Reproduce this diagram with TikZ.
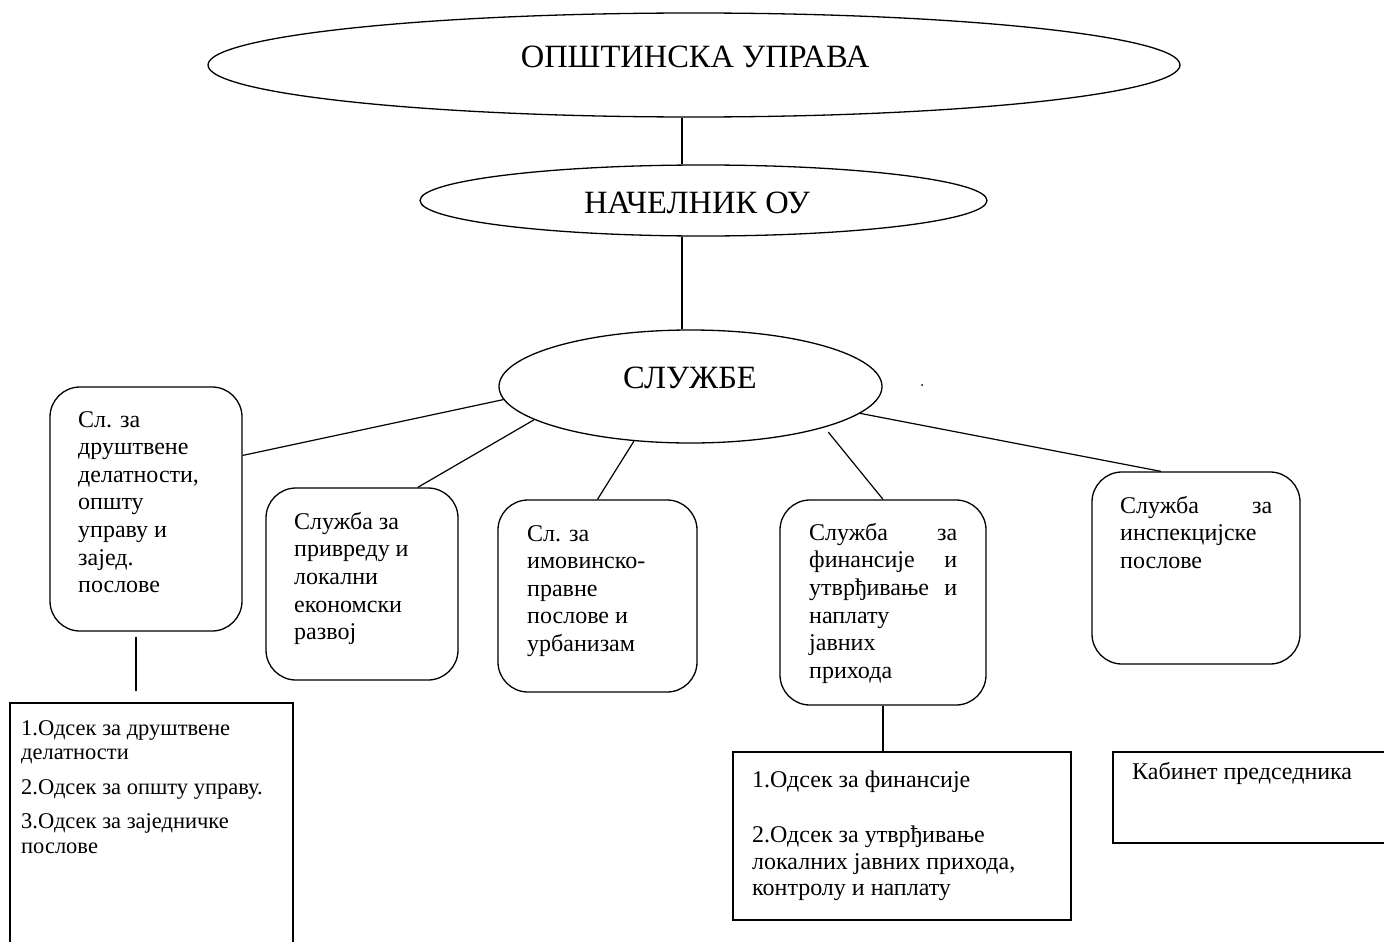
\documentclass[tikz,border=0pt]{standalone}
\usepackage{fontspec}
\setmainfont{Liberation Serif}
\usetikzlibrary{shapes.geometric}

\tikzset{
	oval/.style={draw, ellipse, inner sep=0pt, line width=1.3pt},
	svc/.style={draw, rounded corners=30pt, inner sep=0pt, line width=1.3pt},
	dept/.style={draw, inner sep=0pt, line width=1.2pt},
	bigtext/.style={inner sep=0pt, font=\fontsize{32.5}{38}\selectfont},
	svctext/.style={anchor=north west, inner sep=0pt, align=left, font=\fontsize{24}{27.6}\selectfont},
	depttext/.style={anchor=north west, inner sep=0pt, align=left, font=\fontsize{24}{26.6}\selectfont},
	link/.style={line width=1.2pt}
}

\begin{document}
\begin{tikzpicture}[x=1pt, y=-1pt]
			%%%%% START %%%%%
			\useasboundingbox (0, 0) rectangle (1384, 942);
			\coordinate (spine) at (682, 0);
			
			\node[oval, minimum width=972pt, minimum height=104pt] (ou) at (694, 65) {};
			\node[bigtext] (ou-t) at (695, 57) {ОПШТИНСКА УПРАВА};
			
			\node[oval, minimum width=567pt, minimum height=71pt] (nac) at (703.5, 200.5) {};
			\node[bigtext] (nac-t) at (697, 203) {НАЧЕЛНИК ОУ};
			
			\node[oval, minimum width=383pt, minimum height=113pt] (sl) at (690.5, 386.5) {};
			\node[bigtext] (sl-t) at (690, 378) {СЛУЖБЕ};
			\node[circle, fill, inner sep=0pt, minimum size=2pt] (mark) at (922, 385) {};
			
			\draw[link] (ou.south -| spine) -- (nac.north -| spine);
			\draw[link] (nac.south -| spine) -- (sl.north -| spine);
			
			% sluzbe
			\node[svc, minimum width=192pt, minimum height=244pt] (b1) at (146, 509) {};
			\node[svctext] (b1-t) at (78, 411) {Сл. за\\друштвене\\делатности,\\општу\\управу и\\зајед.\\послове};
			
			\node[svc, minimum width=192pt, minimum height=192pt] (b2) at (362, 584) {};
			\node[svctext] (b2-t) at (294, 512) {Служба за\\привреду и\\локални\\економски\\развој};
			
			\node[svc, minimum width=199pt, minimum height=192pt] (b3) at (597.5, 596) {};
			\node[svctext] (b3-t) at (527, 525) {Сл. за\\имовинско-\\правне\\послове и\\урбанизам};
			
			\node[svc, minimum width=206pt, minimum height=205pt] (b4) at (883, 602.5) {};
			\node[svctext] (b4-t) at (809, 523) {\hbox to 148pt{Служба\hfill за}\\\hbox to 148pt{финансије\hfill и}\\\hbox to 148pt{утврђивање\hfill и}\\наплату\\јавних\\прихода};
			
			\node[svc, minimum width=208pt, minimum height=192pt] (b5) at (1196, 568) {};
			\node[svctext] (b5-t) at (1120, 496) {\hbox to 152pt{Служба\hfill за}\\инспекцијске\\послове};
			
			\draw[link] (sl.184) -- (b1.29);
			\draw[link] (sl.192) -- (b2.60);
			\draw[link] (sl.224) -- (b3.north);
			\draw[link, shorten <=6pt] (sl.343.5) -- (b4.north);
			\draw[link] (sl.351) -- (b5.110);
			
			% odseci
			\node[dept, minimum width=283pt, minimum height=257pt] (r1) at (151.5, 831.5) {};
			\node[depttext, font=\fontsize{22.5}{24.5}\selectfont] (r1-t) at (21, 720) {1.Одсек за друштвене\\делатности\\[10pt]2.Одсек за општу управу.\\[10pt]3.Одсек за заједничке\\послове};
			
			\node[dept, minimum width=338pt, minimum height=168pt] (r2) at (902, 836) {};
			\node[depttext] (r2-t) at (752, 771) {1.Одсек за финансије\\[28pt]2.Одсек за утврђивање\\локалних јавних прихода,\\контролу и наплату};
			
			\node[dept, minimum width=287pt, minimum height=91pt] (r3) at (1256.5, 797.5) {};
			\node[depttext] (r3-t) at (1132, 762) {Кабинет председника};
			
			\draw[link, shorten <=5pt, shorten >=11pt] ([xshift=-10pt]b1.south) -- ([xshift=-10pt]b1.south |- r1.north);
			\draw[link] (b4.south) -- (b4.south |- r2.north);
			%%%%% END %%%%%
\end{tikzpicture}
\end{document}
